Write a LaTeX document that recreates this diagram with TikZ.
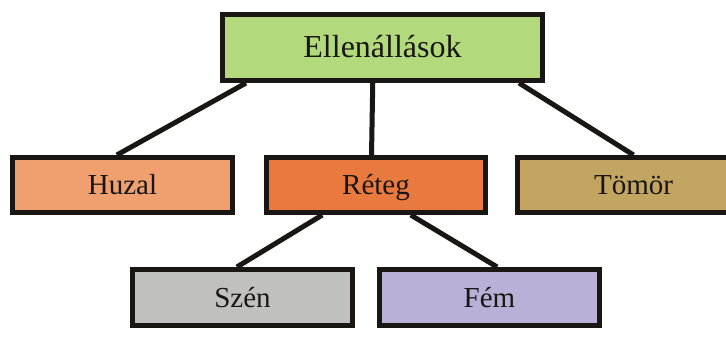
\documentclass[tikz,border=0pt]{standalone}
\usepackage{fontspec}
\setmainfont{Liberation Serif}
\usetikzlibrary{calc,backgrounds}
\definecolor{cTop}{RGB}{178,218,124}
\definecolor{cHuzal}{RGB}{239,160,110}
\definecolor{cReteg}{RGB}{232,122,64}
\definecolor{cTomor}{RGB}{195,165,98}
\definecolor{cSzen}{RGB}{192,193,190}
\definecolor{cFem}{RGB}{185,175,215}
\definecolor{cInk}{RGB}{25,22,20}
\begin{document}
\begin{tikzpicture}[x=1pt,y=-1pt,
  box/.style={draw=cInk,line width=5pt,inner sep=0pt,minimum height=55pt,text=cInk,
    text height=19pt,text depth=0pt,font=\fontsize{29}{32}\selectfont},
  conn/.style={draw=cInk,line width=5pt}]
\useasboundingbox (0,0) rectangle (726,345);
\begin{scope}
\clip (0,0) rectangle (726,345);
\node[box,fill=cTop,minimum width=320pt,minimum height=66pt,text height=21pt,font=\fontsize{32}{36}\selectfont] (top) at (382.5,47.5) {Ellenállások};
\node[box,fill=cHuzal,minimum width=220pt] (huzal) at (122.5,185) {Huzal};
\node[box,fill=cReteg,minimum width=219pt] (reteg) at (376,185) {Réteg};
\node[box,fill=cTomor,minimum width=232pt] (tomor) at (633.5,185) {Tömör};
\node[box,fill=cSzen,minimum width=220pt,minimum height=56pt] (szen) at (242.5,297.5) {Szén};
\node[box,fill=cFem,minimum width=220pt,minimum height=56pt] (fem) at (489.5,297.5) {Fém};
\begin{scope}[on background layer]
\fill[white] (0,0) rectangle (726,345);
\draw[conn] ($(top.south west)!0.08!(top.south east)$) -- ($(huzal.north west)!0.475!(huzal.north east)$);
\draw[conn] ($(top.south west)!0.47!(top.south east)$) -- ($(reteg.north west)!0.48!(reteg.north east)$);
\draw[conn] ($(top.south west)!0.92!(top.south east)$) -- ($(tomor.north west)!0.5!(tomor.north east)$);
\draw[conn] ($(reteg.south west)!0.26!(reteg.south east)$) -- ($(szen.north west)!0.475!(szen.north east)$);
\draw[conn] ($(reteg.south west)!0.655!(reteg.south east)$) -- ($(fem.north west)!0.534!(fem.north east)$);
\end{scope}
\end{scope}
\end{tikzpicture}
\end{document}
